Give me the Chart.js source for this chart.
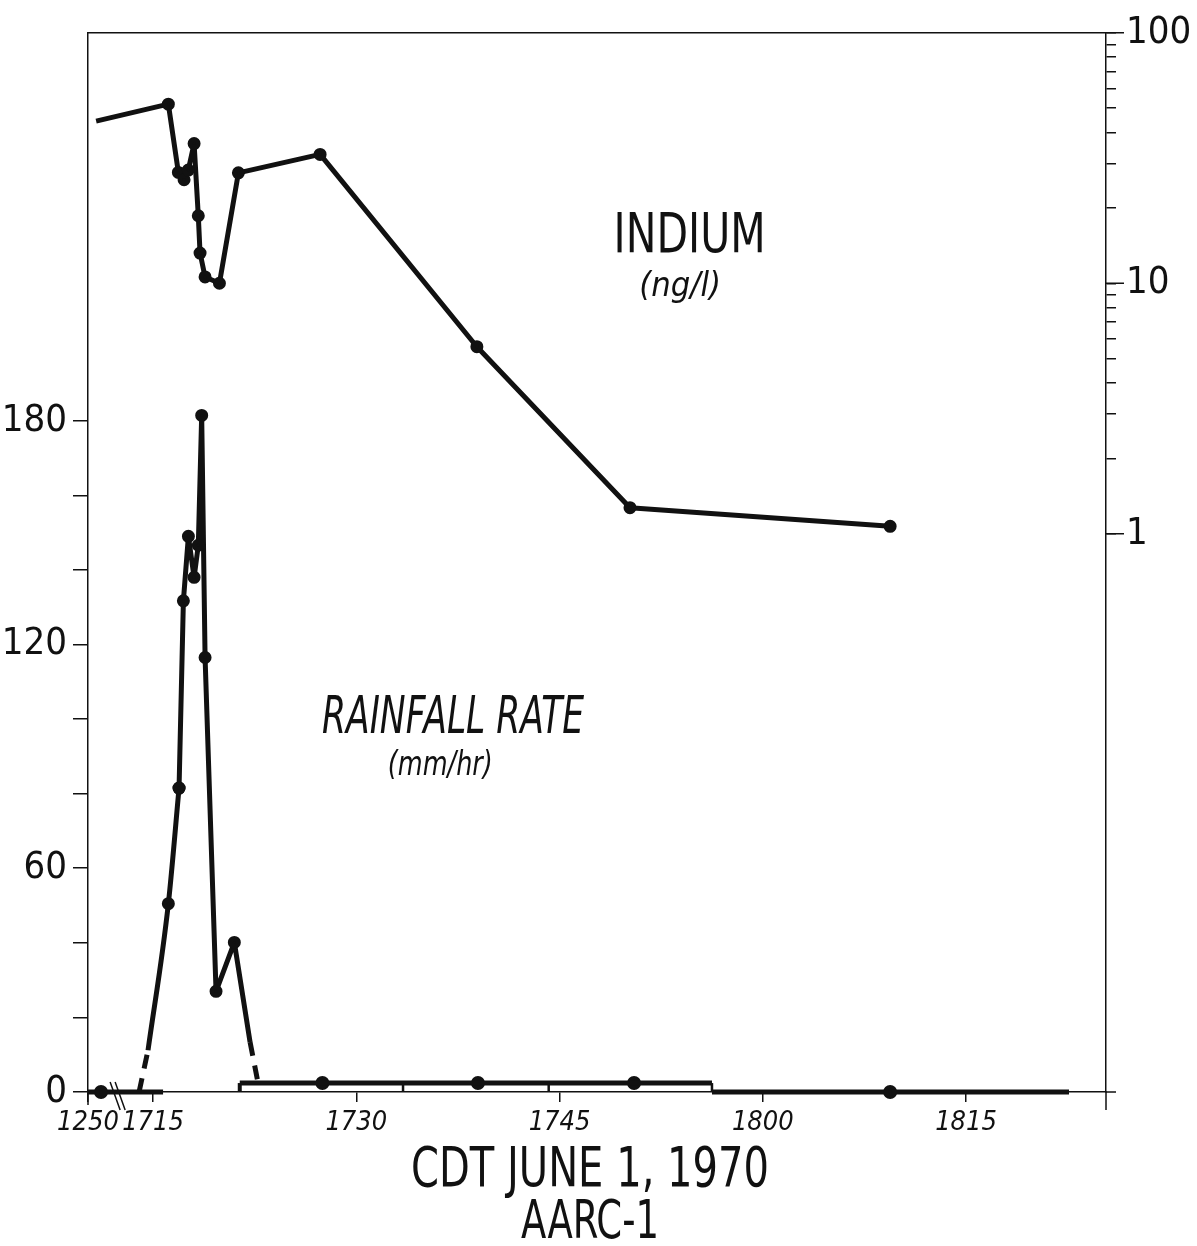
<!DOCTYPE html>
<html>
<head>
<meta charset="utf-8">
<script src="https://cdn.jsdelivr.net/npm/chart.js@4.4.0/dist/chart.umd.min.js"></script>
<style>
  body { margin: 0; background: #fff; }
</style>
</head>
<body>
<canvas id="chart" width="1197" height="1246"></canvas>
<script>
// time axis is minutes after 1700 CDT; the 1250 reading sits left of the axis break
const tickMinutes = [10.2, 15, 30, 45, 60, 75];
const tickLabels = ['1250', '1715', '1730', '1745', '1800', '1815'];
const axisBreak = 12.35;

// rainfall rate (mm/hr)
const rainRiseTimes = [14.63, 16.13, 16.92];
const rainRiseRates = [11.2, 50.5, 81.5];
const rainTimes = [16.92, 17.24, 17.61, 18.03, 18.34, 18.59, 18.84, 19.65, 21.0, 22.16];
const rainRates = [81.5, 131.7, 149, 138, 146.6, 181.4, 116.5, 27, 40.1, 13.4];
const rainLeadTimes = [13.97, 14.63];
const rainLeadRates = [0, 11.2];
const rainTailTimes = [22.16, 22.75];
const rainTailRates = [13.4, 2.4];
const lightRainEdges = [21.4, 33.45, 44.2, 56.25];
const lightRainRate = 2.4;
const dryStarts = [10.2, 56.25];
const dryEnds = [15.74, 82.6];
const rainSampleTimes = [11.16, 27.5, 38.98, 50.5, 69.4];
const rainSampleRates = [0, 2.4, 2.4, 2.4, 0];

// indium (ng/l)
const indiumTimes = [10.8, 16.13, 16.87, 17.29, 17.6, 18.03, 18.34, 18.47, 18.84, 19.9, 21.3, 27.33, 38.9, 50.2, 69.4];
const indiumConc = [44.4, 51.9, 27.7, 25.9, 28.3, 36.1, 18.6, 13.2, 10.6, 10.0, 27.6, 32.7, 5.58, 1.27, 1.07];

const rainTicks = [0, 20, 40, 60, 80, 100, 120, 140, 160, 180];
const rainLabelled = [0, 60, 120, 180];
const indiumTicks = [1, 2, 3, 4, 5, 6, 7, 8, 9, 10, 20, 30, 40, 50, 60, 70, 80, 90, 100];
const indiumLabelled = [1, 10, 100];

const FONT = "'Liberation Sans Narrow', 'DejaVu Sans Condensed', 'Liberation Sans', sans-serif";

const pts = (xs, ys) => xs.map((t, i) => ({ x: t, y: ys[i] }));

const ink = '#111';
const lineBase = {
  type: 'line',
  borderColor: ink,
  backgroundColor: ink,
  borderWidth: 5,
  borderJoinStyle: 'round',
  pointRadius: 0,
  tension: 0,
  clip: false,
  yAxisID: 'y'
};

const datasets = [
  { ...lineBase, data: pts(indiumTimes, indiumConc), yAxisID: 'y2',
    pointRadius: indiumTimes.map((t, i) => i === 0 ? 0 : 4) },
  { ...lineBase, data: pts(rainRiseTimes, rainRiseRates), cubicInterpolationMode: 'monotone',
    pointRadius: [0, 4, 4] },
  { ...lineBase, data: pts(rainTimes, rainRates),
    pointRadius: rainTimes.map((t, i) => i === rainTimes.length - 1 ? 0 : 4) },
  { ...lineBase, data: pts(rainLeadTimes, rainLeadRates), borderDash: [14, 10] },
  { ...lineBase, data: pts(rainTailTimes, rainTailRates), borderDash: [14, 10] },
  { ...lineBase, data: pts([lightRainEdges[0], lightRainEdges[lightRainEdges.length - 1]], [lightRainRate, lightRainRate]) },
  { ...lineBase, data: pts(rainSampleTimes, rainSampleRates), showLine: false, pointRadius: 4.5 }
];
lightRainEdges.forEach((t, i) => {
  datasets.push({ ...lineBase, data: pts([t, t], [0, lightRainRate]), borderWidth: i === 0 ? 4 : 2.5 });
});
dryStarts.forEach((t, i) => {
  datasets.push({ ...lineBase, data: pts([t, dryEnds[i]], [0, 0]) });
});

const notes = [
  { text: 'INDIUM', t: 54.6, v: 15.3, axis: 'y2', size: 56, width: 152, italic: false },
  { text: '(ng/l)', t: 53.9, v: 9.68, axis: 'y2', size: 34, width: 82, italic: true },
  { text: 'RAINFALL RATE', t: 37.14, v: 99.8, axis: 'y', size: 52, width: 262, italic: true },
  { text: '(mm/hr)', t: 36.2, v: 87.3, axis: 'y', size: 34, width: 105, italic: true }
];

function fitText(ctx, text, px, py, size, width, italic) {
  ctx.save();
  ctx.font = (italic ? 'italic ' : '') + size + 'px ' + FONT;
  const w = ctx.measureText(text).width;
  ctx.translate(px, py);
  ctx.scale(width / w, 1);
  ctx.textAlign = 'center';
  ctx.textBaseline = 'middle';
  ctx.fillText(text, 0, 0);
  ctx.restore();
}

const extras = {
  id: 'extras',
  afterDraw(chart) {
    const { ctx, chartArea: a, scales } = chart;
    const { x, y2 } = scales;
    ctx.save();
    ctx.strokeStyle = ink;
    ctx.fillStyle = ink;
    ctx.lineWidth = 1.5;
    ctx.beginPath();
    ctx.moveTo(a.left, a.top);
    ctx.lineTo(a.right + 18, a.top);
    ctx.moveTo(a.left, a.bottom);
    ctx.lineTo(a.left, a.bottom + 13);
    ctx.moveTo(a.right, a.bottom);
    ctx.lineTo(a.right, a.bottom + 18);
    ctx.moveTo(a.right, a.bottom);
    ctx.lineTo(a.right + 10, a.bottom);
    indiumLabelled.forEach(v => {
      const py = y2.getPixelForValue(v);
      ctx.moveTo(a.right, py);
      ctx.lineTo(a.right + 18, py);
    });
    const bx = x.getPixelForValue(axisBreak);
    ctx.moveTo(bx - 7, a.bottom - 10);
    ctx.lineTo(bx + 3, a.bottom + 18);
    ctx.moveTo(bx - 2, a.bottom - 10);
    ctx.lineTo(bx + 8, a.bottom + 18);
    ctx.stroke();

    notes.forEach(n => {
      fitText(ctx, n.text, x.getPixelForValue(n.t), scales[n.axis].getPixelForValue(n.v), n.size, n.width, n.italic);
    });
    const cx = (a.left + a.right) / 2 - 7;
    fitText(ctx, 'CDT JUNE 1, 1970', cx, a.bottom + 79, 56, 358, false);
    fitText(ctx, 'AARC-1', cx, a.bottom + 132, 54, 138, false);
    ctx.restore();
  }
};

const axisGrid = { drawOnChartArea: false, drawTicks: true, color: ink, lineWidth: 1.5 };

new Chart(document.getElementById('chart').getContext('2d'), {
  type: 'line',
  data: { datasets },
  options: {
    responsive: false,
    animation: false,
    layout: { padding: { top: 28 } },
    plugins: { legend: { display: false }, tooltip: { enabled: false } },
    scales: {
      x: {
        type: 'linear',
        min: 10.2,
        max: 85.33,
        grid: { ...axisGrid, tickLength: 10 },
        border: { display: true, color: ink, width: 1.5 },
        ticks: {
          color: ink, padding: 5, maxRotation: 0, autoSkip: false,
          font: { family: FONT, size: 27, style: 'italic' },
          callback: (v, i) => tickLabels[i]
        },
        afterBuildTicks: s => { s.ticks = tickMinutes.map(v => ({ value: v })); },
        afterFit: s => { s.height = 154; }
      },
      y: {
        position: 'left',
        min: 0,
        max: 284,
        grid: { ...axisGrid, tickLength: 15 },
        border: { display: true, color: ink, width: 1.5 },
        ticks: {
          color: ink, padding: 6,
          font: { family: FONT, size: 38 },
          callback: v => rainLabelled.includes(v) ? String(v) : ''
        },
        afterBuildTicks: s => { s.ticks = rainTicks.map(v => ({ value: v })); },
        afterFit: s => { s.width = 88; }
      },
      y2: {
        type: 'logarithmic',
        position: 'right',
        min: 0.0059,
        max: 100,
        grid: { ...axisGrid, tickLength: 10 },
        border: { display: true, color: ink, width: 1.5 },
        ticks: {
          color: ink, padding: 10,
          font: { family: FONT, size: 38 },
          callback: v => indiumLabelled.includes(v) ? String(v) : ''
        },
        afterBuildTicks: s => { s.ticks = indiumTicks.map(v => ({ value: v })); },
        afterFit: s => { s.width = 91; }
      }
    }
  },
  plugins: [extras]
});
</script>
</body>
</html>
